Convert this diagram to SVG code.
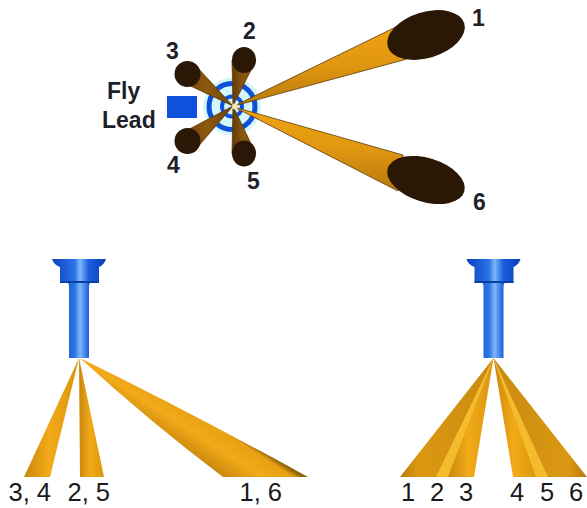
<svg xmlns="http://www.w3.org/2000/svg" width="587" height="508" viewBox="0 0 587 508">
<style>
.num{font-family:"Liberation Sans",Arial,sans-serif;font-size:25.500px;fill:#1a1a1a}
.top{font-family:"Liberation Sans",Arial,sans-serif;font-size:23px;font-weight:bold;fill:#1f1f2a}
.end{fill:#2a1706}
.ring{fill:none;stroke:#0f50d8}
.edge{stroke:#5a3a08;stroke-width:.8}
</style>
<defs>
<linearGradient id="blue"><stop offset="0" stop-color="#0c3fc0"/><stop offset=".42" stop-color="#2a74e6"/><stop offset=".52" stop-color="#7db8f6"/><stop offset=".68" stop-color="#1c5fe0"/><stop offset="1" stop-color="#0a3bb8"/></linearGradient>
<linearGradient id="gold"><stop offset="0" stop-color="#c8860e"/><stop offset=".45" stop-color="#f2aa18"/><stop offset="1" stop-color="#d8960f"/></linearGradient>
<linearGradient id="fan"><stop offset="0" stop-color="#b87a0c"/><stop offset=".2" stop-color="#dc9812"/><stop offset="1" stop-color="#c98a10"/></linearGradient>
<linearGradient id="fan2"><stop offset="0" stop-color="#c98a10"/><stop offset=".8" stop-color="#dc9812"/><stop offset="1" stop-color="#b87a0c"/></linearGradient>
<linearGradient id="side16" gradientUnits="userSpaceOnUse" x1="188" y1="455" x2="212" y2="418"><stop offset="0" stop-color="#c8860e"/><stop offset=".5" stop-color="#f2aa18"/><stop offset=".88" stop-color="#e8a015"/><stop offset="1" stop-color="#8f6208"/></linearGradient>
<linearGradient id="top1" x1="0" y1="0" x2="0" y2="1"><stop offset="0" stop-color="#f0a414"/><stop offset=".5" stop-color="#e09610"/><stop offset="1" stop-color="#b87a0c"/></linearGradient>
<linearGradient id="brown"><stop offset="0" stop-color="#5f3a08"/><stop offset=".5" stop-color="#8e5a0e"/><stop offset="1" stop-color="#6a430a"/></linearGradient>
<g id="nozzle">
<path d="M-27 0H27Q25 6 20 8V24H11Q10 25 10 28V99H-10V28Q-10 25 -11 24H-19V8Q-25 6 -27 0Z" fill="url(#blue)"/>
<path d="M-19 22H20V24H-19Z" fill="#0b3fa8"/>
</g>
</defs>

<g id="connectors"/>

<g id="top-view">
<g id="hub">
<circle cx="232" cy="106.500" r="29" fill="#d4f6fb"/>
<circle class="ring" cx="232" cy="106.500" r="23" stroke-width="5"/>
<circle class="ring" cx="232" cy="106.500" r="10" stroke-width="4"/>
</g>
<rect id="fly-lead-block" x="167" y="96" width="30" height="22" fill="#0f50dc"/>
<g id="spray-3"><path class="edge" d="M233 106L180 81L196 66Z" fill="url(#brown)"/><circle class="end" cx="187.500" cy="74" r="13"/></g>
<g id="spray-4"><path class="edge" d="M233 106L196 149L180 134Z" fill="url(#brown)"/><circle class="end" cx="187.500" cy="141" r="13"/></g>
<g id="spray-2"><path class="edge" d="M233 106L232 60L256 60Z" fill="url(#brown)"/><ellipse class="end" cx="244" cy="60" rx="12" ry="13"/></g>
<g id="spray-5"><path class="edge" d="M233 106L232 154L256 154Z" fill="url(#brown)"/><ellipse class="end" cx="244" cy="153.500" rx="12" ry="13"/></g>
<g id="spray-1"><path class="edge" d="M234 106L400 25L407 59Z" fill="url(#top1)"/><ellipse class="end" cx="426" cy="35" rx="40" ry="23" transform="rotate(-17 426 35)"/></g>
<g id="spray-6"><path class="edge" d="M234 107L403 155L398 191Z" fill="url(#top1)"/><ellipse class="end" cx="426" cy="180" rx="40" ry="22" transform="rotate(17 426 180)"/></g>
<circle cx="235" cy="106.500" r="3" fill="#f3e3b0"/>
<text class="top" x="472" y="26">1</text>
<text class="top" x="243" y="39">2</text>
<text class="top" x="166" y="59">3</text>
<text class="top" x="167" y="173">4</text>
<text class="top" x="247" y="189">5</text>
<text class="top" x="473" y="210">6</text>
<text class="top" x="107" y="99">Fly</text>
<text class="top" x="102" y="128">Lead</text>
</g>

<g id="side-view">
<use href="#nozzle" x="79" y="259"/>
<path d="M79 358L24 477H50Z" fill="url(#gold)"/>
<path d="M79 358L80 477H104Z" fill="url(#gold)"/>
<path d="M80 358Q150 422 223 477H308Q190 412 80 358Z" fill="url(#side16)"/>
<text class="num" x="8.500" y="501">3, 4</text>
<text class="num" x="67.500" y="501">2, 5</text>
<text class="num" x="239.500" y="501">1, 6</text>
</g>

<g id="front-view">
<use href="#nozzle" x="493.500" y="259"/>
<path d="M493.500 358L400 477H440Z" fill="url(#fan)"/>
<path d="M493.500 358L436 477H450Z" fill="#f4bc2c"/>
<path d="M493.500 358L448 477H474Z" fill="url(#gold)"/>
<path d="M493.500 358L513 477H538Z" fill="url(#gold)"/>
<path d="M493.500 358L536 477H550Z" fill="#f4bc2c"/>
<path d="M493.500 358L548 477H587Z" fill="url(#fan2)"/>
<text class="num" x="401" y="501">1</text>
<text class="num" x="430" y="501">2</text>
<text class="num" x="459" y="501">3</text>
<text class="num" x="510" y="501">4</text>
<text class="num" x="540" y="501">5</text>
<text class="num" x="569" y="501">6</text>
</g>
</svg>
